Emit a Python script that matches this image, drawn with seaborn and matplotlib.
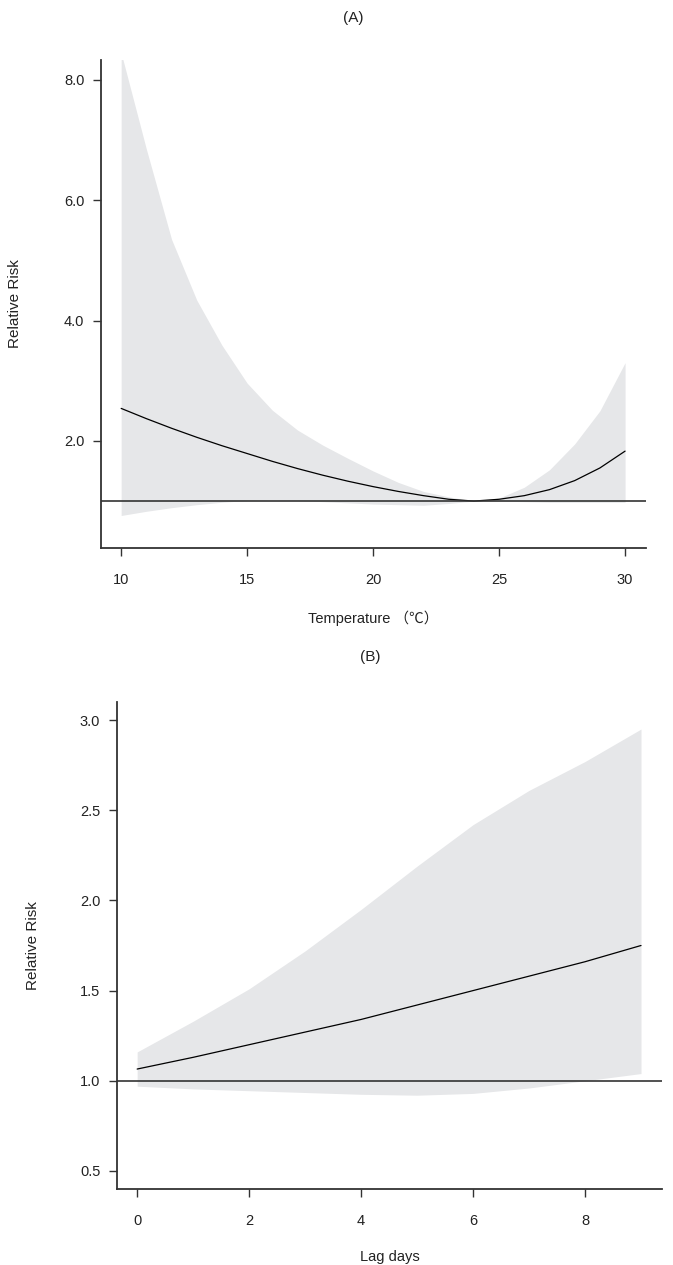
import numpy as np
import matplotlib
matplotlib.use("Agg")
import matplotlib.pyplot as plt
import seaborn as sns

# Panel A: temperature-response
temp = [10, 11, 12, 13, 14, 15, 16, 17, 18, 19, 20, 21, 22, 23, 24, 25, 26, 27, 28, 29, 30]
rr_temp = [2.54, 2.37, 2.21, 2.06, 1.92, 1.79, 1.66, 1.54, 1.43, 1.33, 1.24, 1.16, 1.09, 1.03, 1.00,
           1.03, 1.09, 1.19, 1.34, 1.55, 1.83]
upper_temp = [8.45, 6.85, 5.35, 4.34, 3.59, 2.96, 2.51, 2.18, 1.93, 1.71, 1.50, 1.31, 1.16, 1.07, 1.00,
              1.05, 1.23, 1.52, 1.95, 2.50, 3.30]
lower_temp = [0.76, 0.83, 0.89, 0.94, 0.98, 1.01, 1.02, 1.01, 0.99, 0.97, 0.95, 0.94, 0.93, 0.96, 1.00,
              1.00, 0.99, 0.98, 0.98, 0.98, 0.98]

# Panel B: lag-response
lag = [0, 1, 2, 3, 4, 5, 6, 7, 8, 9]
rr_lag = [1.065, 1.13, 1.20, 1.27, 1.34, 1.42, 1.50, 1.58, 1.66, 1.75]
upper_lag = [1.16, 1.33, 1.51, 1.72, 1.95, 2.19, 2.42, 2.61, 2.77, 2.95]
lower_lag = [0.97, 0.955, 0.945, 0.935, 0.925, 0.92, 0.93, 0.96, 1.0, 1.04]

sns.set_style("ticks")
plt.rcParams["font.family"] = ["Liberation Sans", "Noto Sans CJK SC", "DejaVu Sans"]
plt.rcParams["axes.edgecolor"] = "#333333"
plt.rcParams["xtick.color"] = "#333333"
plt.rcParams["ytick.color"] = "#333333"

W, H = 673, 1265
fig = plt.figure(figsize=(W / 100, H / 100), dpi=100)

band_color = "#e6e7e9"
dark = "#222222"


def style_axes(ax):
    sns.despine(ax=ax)
    ax.spines["left"].set_linewidth(1.3)
    ax.spines["bottom"].set_linewidth(1.3)
    ax.tick_params(direction="out", length=6, width=1, labelsize=10.5, labelcolor=dark, pad=6)
    ax.tick_params(axis="x", pad=12)


# (A)
axA = fig.add_axes([101 / W, 1 - 548 / H, 545 / W, 488 / H])
axA.fill_between(temp, lower_temp, upper_temp, color=band_color, linewidth=0)
sns.lineplot(x=temp, y=rr_temp, ax=axA, color="black", linewidth=0.9)
axA.axhline(1.0, color="#333333", linewidth=1.2)
axA.set_xlim(9.2, 30.83)
axA.set_ylim(0.22, 8.33)
axA.set_xticks([10, 15, 20, 25, 30])
axA.set_yticks([2, 4, 6, 8])
axA.set_yticklabels(["2.0", "4.0", "6.0", "8.0"])
style_axes(axA)
axA.set_xlabel("Temperature （℃）", fontsize=10.5, color=dark)
axA.set_ylabel("Relative Risk", fontsize=11, color=dark)
axA.xaxis.set_label_coords(0.5, -0.128)
axA.yaxis.set_label_coords(-0.145, 0.5)

# (B)
axB = fig.add_axes([117 / W, 1 - 1189 / H, 545 / W, 487 / H])
axB.fill_between(lag, lower_lag, upper_lag, color=band_color, linewidth=0)
sns.lineplot(x=lag, y=rr_lag, ax=axB, color="black", linewidth=0.9)
axB.axhline(1.0, color="#333333", linewidth=1.2)
axB.set_xlim(-0.36, 9.375)
axB.set_ylim(0.4, 3.1)
axB.set_xticks([0, 2, 4, 6, 8])
axB.set_yticks([0.5, 1.0, 1.5, 2.0, 2.5, 3.0])
axB.set_yticklabels(["0.5", "1.0", "1.5", "2.0", "2.5", "3.0"])
style_axes(axB)
axB.set_xlabel("Lag days", fontsize=10.5, color=dark)
axB.set_ylabel("Relative Risk", fontsize=11, color=dark)
axB.xaxis.set_label_coords(0.5, -0.125)
axB.yaxis.set_label_coords(-0.141, 0.5)

fig.text(353 / W, 1 - 18 / H, "(A)", ha="center", va="center", fontsize=11, color=dark)
fig.text(370 / W, 1 - 657 / H, "(B)", ha="center", va="center", fontsize=11, color=dark)

fig.savefig("out.png", dpi=100)
